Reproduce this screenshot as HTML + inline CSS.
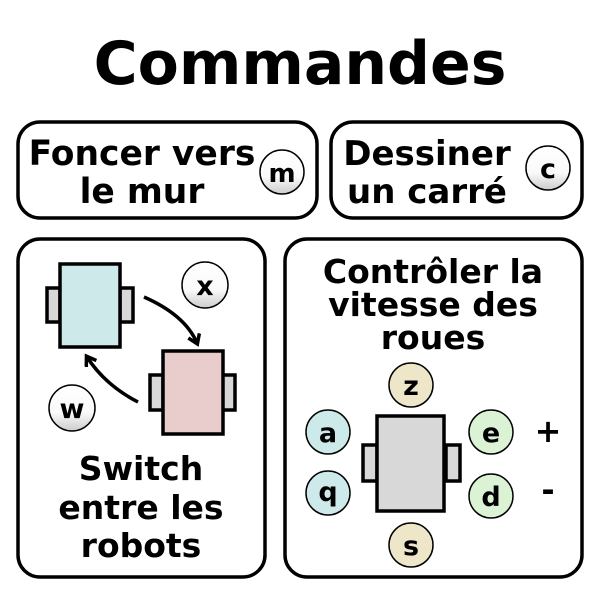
<!DOCTYPE html>
<html><head><meta charset="utf-8"><style>body{margin:0;background:#fff}svg{display:block}text{font-family:"DejaVu Sans","Liberation Sans",sans-serif;font-weight:bold;fill:#000;text-anchor:middle}</style></head><body>
<svg width="600" height="600" viewBox="0 0 600 600" xmlns="http://www.w3.org/2000/svg">
<defs>
<linearGradient id="g" x1="0" y1="0" x2="0" y2="1"><stop offset="0" stop-color="#fff"/><stop offset="0.6" stop-color="#fafafa"/><stop offset="1" stop-color="#ccc"/></linearGradient>
<marker id="ah" markerWidth="16" markerHeight="16" refX="9" refY="7" orient="auto" markerUnits="userSpaceOnUse"><path d="M1,1 L10,7 L1,13" fill="none" stroke="#000" stroke-width="3.5"/></marker>
</defs>
<text x="300" y="84" font-size="60">Commandes</text>
<g fill="#fff" stroke="#000" stroke-width="3.5">
<rect x="18" y="122" width="299" height="96" rx="22"/>
<rect x="331" y="122" width="251" height="96" rx="22"/>
<rect x="18" y="239" width="247" height="338" rx="22"/>
<rect x="285" y="239" width="297" height="338" rx="22"/>
</g>
<text x="142" y="165" font-size="34.5">Foncer vers</text>
<text x="142" y="203" font-size="34.5">le mur</text>
<text x="427" y="165" font-size="34">Dessiner</text>
<text x="427" y="203" font-size="34">un carré</text>
<g stroke="#000" stroke-width="1.5" fill="url(#g)">
<circle cx="282" cy="172" r="22"/><circle cx="548" cy="168" r="22"/>
<circle cx="205" cy="285" r="23"/><circle cx="72" cy="408" r="23"/>
</g>
<text x="282" y="182" font-size="26">m</text>
<text x="548" y="178" font-size="27">c</text>
<text x="205" y="295" font-size="27">x</text>
<text x="72" y="418" font-size="27">w</text>
<g stroke="#000" stroke-width="3.5">
<rect x="47" y="288" width="13" height="34" fill="#d8d8d8"/>
<rect x="120" y="288" width="13" height="34" fill="#d8d8d8"/>
<rect x="60" y="264" width="60" height="83" fill="#cde9ea"/>
<rect x="150" y="375" width="13" height="35" fill="#d8d8d8"/>
<rect x="222" y="375" width="13" height="35" fill="#d8d8d8"/>
<rect x="163" y="351" width="60" height="83" fill="#e9cccc"/>
<rect x="363" y="445" width="14" height="36" fill="#d8d8d8"/>
<rect x="446" y="445" width="14" height="36" fill="#d8d8d8"/>
<rect x="377" y="416" width="67" height="95" fill="#d8d8d8"/>
</g>
<path d="M144,297 Q185,315 197,343" fill="none" stroke="#000" stroke-width="3.5" marker-end="url(#ah)"/>
<path d="M138,402 Q105,385 87,357" fill="none" stroke="#000" stroke-width="3.5" marker-end="url(#ah)"/>
<text x="141" y="480" font-size="33">Switch</text>
<text x="141" y="519" font-size="33">entre les</text>
<text x="141" y="557" font-size="33">robots</text>
<text x="433" y="283" font-size="33">Contrôler la</text>
<text x="433" y="316" font-size="33">vitesse des</text>
<text x="433" y="349" font-size="33">roues</text>
<g stroke="#000" stroke-width="1.5">
<circle cx="411" cy="385" r="22" fill="#ede6c8"/>
<circle cx="411" cy="545" r="22" fill="#ede6c8"/>
<circle cx="328" cy="432" r="22" fill="#cde9ea"/>
<circle cx="328" cy="493" r="22" fill="#cde9ea"/>
<circle cx="491" cy="432" r="22" fill="#dbf2d5"/>
<circle cx="491" cy="496" r="22" fill="#dbf2d5"/>
</g>
<text x="411" y="395" font-size="27">z</text>
<text x="411" y="555" font-size="27">s</text>
<text x="328" y="442" font-size="27">a</text>
<text x="328" y="501" font-size="27">q</text>
<text x="491" y="442" font-size="27">e</text>
<text x="491" y="506" font-size="27">d</text>
<text x="548" y="442" font-size="32">+</text>
<text x="548" y="501" font-size="32">-</text>
</svg>
</body></html>
